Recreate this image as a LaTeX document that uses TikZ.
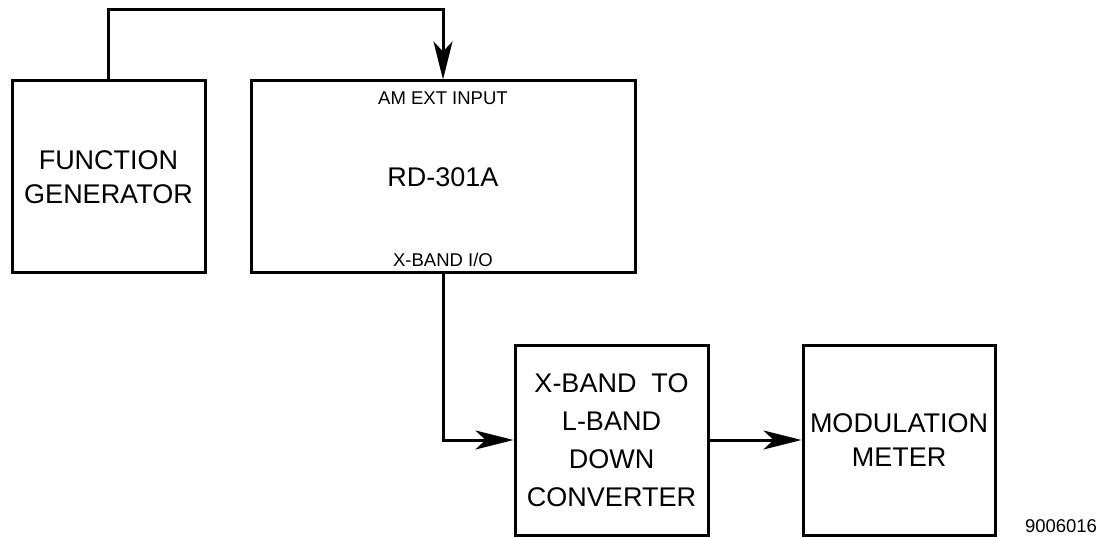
\documentclass[tikz,border=0pt]{standalone}
\usepackage{fontspec}
\setmainfont{Liberation Sans}
\usetikzlibrary{arrows.meta}
\tikzstyle{block} = [rectangle, draw, line width=3pt, text centered, align=center, font=\fontsize{27}{34}\selectfont]
\tikzstyle{tag} = [text centered, font=\fontsize{18.5}{22}\selectfont]
\tikzstyle{arrow} = [line width=3pt, -{Stealth[length=38pt, width=19pt, inset=10pt]}]

\begin{document}
\begin{tikzpicture}[x=1pt, y=-1pt]
\useasboundingbox (0,0) rectangle (1103,537);
\node (fg) [block, minimum width=193pt, minimum height=192pt] at (108.5,177) {FUNCTION\\GENERATOR};
\node (rd) [block, minimum width=384pt, minimum height=192pt] at (443,177) {RD-301A};
\node (conv) [block, minimum width=193pt, minimum height=190pt, font=\fontsize{27}{38}\selectfont] at (611.5,440) {X-BAND \ TO\\L-BAND\\DOWN\\CONVERTER};
\node (mm) [block, minimum width=192pt, minimum height=190pt] at (899,440) {MODULATION\\METER};

\node (amin) [tag, yshift=-19pt] at (rd.north) {AM EXT INPUT};
\node (xio) [tag, yshift=15pt] at (rd.south) {X-BAND I/O};
\node (fignum) [tag] at (1061,526) {9006016};

\coordinate (over) at (108.5,10);
\draw [arrow] (fg.north) -- (over) -| (rd.north);
\draw [arrow] (rd.south) |- (conv.west);
\draw [arrow] (conv.east) -- (mm.west);

\end{tikzpicture}
\end{document}
